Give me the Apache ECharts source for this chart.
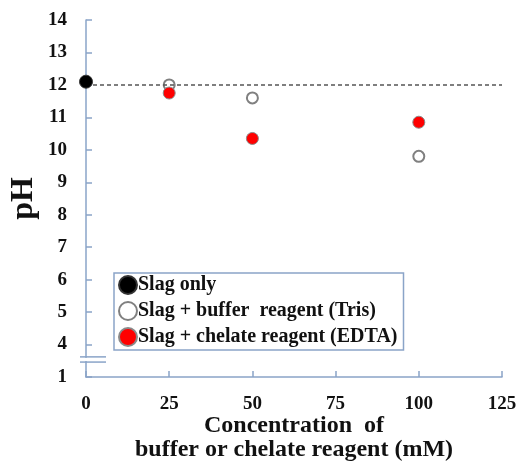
<!DOCTYPE html>
<html><head><meta charset="utf-8">
<script src="https://cdn.jsdelivr.net/npm/echarts@6/dist/echarts.min.js"></script>
<style>html,body{margin:0;padding:0;background:#fff}#c{width:519px;height:463px}</style>
</head><body><div id="c"></div>
<script>
const seriesNames = ['Slag only', 'Slag + buffer  reagent (Tris)', 'Slag + chelate reagent (EDTA)'];
const slagOnlyConc = [0];
const slagOnlyPH = [12.1];
const trisConc = [25, 50, 100];
const trisPH = [12.0, 11.6, 9.8];
const edtaConc = [25, 50, 100];
const edtaPH = [11.75, 10.35, 10.85];
const referencePH = 12;
const xTickValues = [0, 25, 50, 75, 100, 125];
const yTickLabels = {3: '1', 4: '4', 5: '5', 6: '6', 7: '7', 8: '8', 9: '9', 10: '10', 11: '11', 12: '12', 13: '13', 14: '14'};

const pair = (xs, ys) => xs.map((x, i) => [x, ys[i]]);
const FONT = 'Liberation Serif';
const AX = '#8aa4c8';

const chart = echarts.init(document.getElementById('c'));
chart.setOption({
  animation: false,
  grid: {left: 86, right: 17, top: 20, bottom: 86, outerBoundsMode: 'none', containLabel: false},
  legend: {
    orient: 'vertical', left: 114, top: 273,
    borderColor: AX, borderWidth: 1.5, padding: [2, 6, 3, 4],
    itemWidth: 18, itemHeight: 18, itemGap: 6,
    textStyle: {fontFamily: FONT, fontWeight: 'bold', fontSize: 20, color: '#111', padding: [0, 0, 0, -4]},
    data: seriesNames.map(n => ({name: n, icon: 'circle'}))
  },
  xAxis: {
    type: 'value', min: 0, max: 125, interval: 25,
    name: 'Concentration  of\nbuffer or chelate reagent (mM)',
    nameLocation: 'middle', nameGap: 37, nameMoveOverlap: false,
    nameTextStyle: {fontFamily: FONT, fontWeight: 'bold', fontSize: 24, color: '#111', lineHeight: 24, verticalAlign: 'top'},
    axisLine: {lineStyle: {color: AX, width: 1.5}},
    axisTick: {inside: true, length: 6, lineStyle: {color: AX, width: 1.5}},
    axisLabel: {margin: 18, fontFamily: FONT, fontWeight: 'bold', fontSize: 19, color: '#111',
      formatter: v => xTickValues.includes(v) ? String(v) : ''},
    splitLine: {show: false}
  },
  yAxis: {
    type: 'value', min: 3, max: 14, interval: 1,
    name: 'pH', nameLocation: 'middle', nameRotate: 90, nameGap: 46, nameMoveOverlap: false,
    nameTextStyle: {fontFamily: FONT, fontWeight: 'bold', fontSize: 32, color: '#111'},
    axisLine: {lineStyle: {color: AX, width: 1.5}},
    axisTick: {inside: true, length: 6, lineStyle: {color: AX, width: 1.5}},
    axisLabel: {margin: 19, fontFamily: FONT, fontWeight: 'bold', fontSize: 19, color: '#111',
      formatter: v => yTickLabels[v] || ''},
    splitLine: {show: false}
  },
  series: [
    {name: seriesNames[0], type: 'scatter', data: pair(slagOnlyConc, slagOnlyPH), symbolSize: 13, z: 5,
     itemStyle: {color: '#000', borderColor: '#333', borderWidth: 1, opacity: 1},
     markLine: {silent: true, symbol: 'none', label: {show: false},
       lineStyle: {color: '#555', type: [4, 3], width: 1.5},
       data: [{yAxis: referencePH}]}},
    {name: seriesNames[1], type: 'scatter', data: pair(trisConc, trisPH), symbolSize: 11, z: 4,
     itemStyle: {color: '#fff', borderColor: '#808080', borderWidth: 2, opacity: 1}},
    {name: seriesNames[2], type: 'scatter', data: pair(edtaConc, edtaPH), symbolSize: 12, z: 5,
     itemStyle: {color: '#ff0000', borderColor: '#8a8a8a', borderWidth: 1, opacity: 1}}
  ]
});

const b1 = chart.convertToPixel({gridIndex: 0}, [0, 3.62]);
const b2 = chart.convertToPixel({gridIndex: 0}, [0, 3.46]);
chart.setOption({
  graphic: [
    {type: 'rect', shape: {x: b1[0] - 3, y: b1[1] + 1, width: 6, height: b2[1] - b1[1] - 2}, style: {fill: '#fff'}, z: 100},
    {type: 'line', shape: {x1: b1[0] - 6, y1: b1[1], x2: b1[0] + 20, y2: b1[1]}, style: {stroke: AX, lineWidth: 1.5}, z: 101},
    {type: 'line', shape: {x1: b2[0] - 6, y1: b2[1], x2: b2[0] + 20, y2: b2[1]}, style: {stroke: AX, lineWidth: 1.5}, z: 101}
  ]
});
</script></body></html>
